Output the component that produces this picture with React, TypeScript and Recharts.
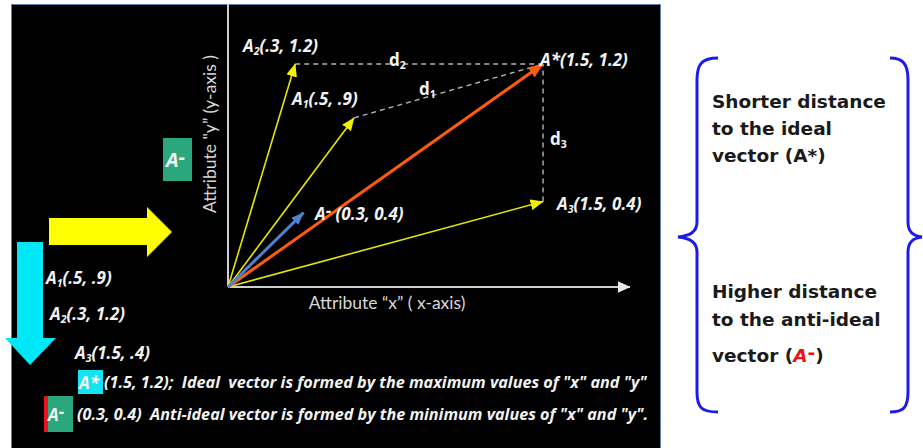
import React from "react";
import { LineChart, Line, XAxis, YAxis } from "recharts";

// vector tips as drawn in the figure (attribute units)
const vectorNames = ["A1", "A2", "A3", "A*", "A-"];
const vectorX = [0.6, 0.32, 1.5, 1.5, 0.36];
const vectorY = [0.91, 1.2, 0.46, 1.2, 0.4];

// dashed distances: from each alternative to the ideal vector
const distanceFrom = ["A1", "A2", "A3"];
const idealName = "A*";

// extent of the drawn axes (x axis ends in an arrow head)
const xDomain = [0, 1.914];
const yDomain = [0, 1.523];

const tip = (name: string) => {
  const i = vectorNames.indexOf(name);
  return { x: vectorX[i], y: vectorY[i] };
};
const origin = { x: 0, y: 0 };

const vectorStyle: Record<string, { stroke: string; width: number; marker: string }> = {
  A1: { stroke: "#e6e600", width: 1.6, marker: "arrYellow" },
  A2: { stroke: "#e6e600", width: 1.6, marker: "arrYellow" },
  A3: { stroke: "#e6e600", width: 1.6, marker: "arrYellow" },
  "A*": { stroke: "#ff5b0d", width: 3, marker: "arrOrange" },
  "A-": { stroke: "#4f80d2", width: 3, marker: "arrBlue" },
};
// yellow first, then orange, blue on top
const drawOrder = ["A1", "A2", "A3", "A*", "A-"];

const labelFont: React.CSSProperties = {
  fontFamily: "'Open Sans', Lato, sans-serif",
  fontWeight: 700,
  fontStyle: "italic",
  color: "#f2f2f2",
};

function T({
  x,
  y,
  size = 17,
  style,
  children,
}: {
  x: number;
  y: number;
  size?: number;
  style?: React.CSSProperties;
  children: React.ReactNode;
}) {
  return (
    <div
      style={{
        position: "absolute",
        left: x,
        top: y - size / 2,
        fontSize: size,
        lineHeight: `${size}px`,
        whiteSpace: "nowrap",
        ...labelFont,
        ...style,
      }}
    >
      {children}
    </div>
  );
}

const Sub = ({ children }: { children: React.ReactNode }) => (
  <span style={{ fontSize: "0.62em", position: "relative", top: "0.35em" }}>{children}</span>
);
const Dash = () => <span style={{ position: "relative", top: "-0.15em" }}>-</span>;

function Marker({ id, fill, w, h }: { id: string; fill: string; w: number; h: number }) {
  return (
    <marker
      id={id}
      viewBox={`0 0 ${w} ${h}`}
      refX={w - 0.5}
      refY={h / 2}
      markerWidth={w}
      markerHeight={h}
      markerUnits="userSpaceOnUse"
      orient="auto"
    >
      <path d={`M0,0 L${w},${h / 2} L0,${h} z`} fill={fill} />
    </marker>
  );
}

function Chart() {
  return (
    <LineChart
      width={923}
      height={448}
      margin={{ top: 4, right: 293, bottom: 161, left: 228 }}
      style={{ position: "absolute", left: 0, top: 0 }}
    >
      <XAxis type="number" dataKey="x" domain={xDomain} hide />
      <YAxis type="number" dataKey="y" domain={yDomain} hide />

      {/* axes */}
      <Line
        data={[origin, { x: 0, y: yDomain[1] }]}
        dataKey="y"
        type="linear"
        stroke="#cfcfcf"
        strokeWidth={2}
        dot={false}
        isAnimationActive={false}
      />
      <Line
        data={[origin, { x: xDomain[1], y: 0 }]}
        dataKey="y"
        type="linear"
        stroke="#cfcfcf"
        strokeWidth={2}
        dot={false}
        markerEnd="url(#arrWhite)"
        isAnimationActive={false}
      />

      {/* distances to the ideal vector */}
      {distanceFrom.map((n) => (
        <Line
          key={`d-${n}`}
          data={[tip(n), tip(idealName)]}
          dataKey="y"
          type="linear"
          stroke="#b4b4b4"
          strokeWidth={1.4}
          strokeDasharray="5 4"
          dot={false}
          isAnimationActive={false}
        />
      ))}

      {drawOrder.map((n) => (
        <Line
          key={`v-${n}`}
          data={[origin, tip(n)]}
          dataKey="y"
          type="linear"
          stroke={vectorStyle[n].stroke}
          strokeWidth={vectorStyle[n].width}
          dot={false}
          markerEnd={`url(#${vectorStyle[n].marker})`}
          isAnimationActive={false}
        />
      ))}
    </LineChart>
  );
}

const noteStyle: React.CSSProperties = {
  position: "absolute",
  left: 712,
  fontFamily: "'DejaVu Sans', sans-serif",
  fontWeight: 700,
  fontSize: 18.5,
  color: "#1a1a1a",
  whiteSpace: "nowrap",
};

const axisTitle: React.CSSProperties = {
  position: "absolute",
  fontFamily: "Lato, sans-serif",
  fontSize: 17.5,
  color: "#d8d8d8",
  whiteSpace: "nowrap",
};

export default function App() {
  return (
    <div
      style={{
        position: "absolute",
        left: 0,
        top: 0,
        width: 923,
        height: 448,
        background: "#ffffff",
        overflow: "hidden",
      }}
    >
      <svg width={0} height={0} style={{ position: "absolute" }}>
        <defs>
          <Marker id="arrYellow" fill="#f2f200" w={13} h={11} />
          <Marker id="arrOrange" fill="#ff5b0d" w={15} h={12} />
          <Marker id="arrBlue" fill="#4f80d2" w={13} h={10} />
          <Marker id="arrWhite" fill="#e8e8e8" w={13} h={12} />
        </defs>
      </svg>

      {/* black slide panel */}
      <div
        style={{
          position: "absolute",
          left: 11,
          top: 4,
          width: 650,
          height: 450,
          boxSizing: "border-box",
          background: "#000",
          borderLeft: "1px solid #5f7fb3",
          borderTop: "1px solid #5f7fb3",
          borderRight: "1px solid #5f7fb3",
          overflow: "hidden",
        }}
      >
        <div style={{ position: "absolute", left: 32, top: 391, width: 4, height: 36, background: "#e8141b" }} />
        <div
          style={{
            position: "absolute",
            left: 36,
            top: 391,
            width: 25,
            height: 36,
            background: "#2aa77c",
          }}
        />
        <T x={36} y={409} size={17}>
          A<Dash />
        </T>
        <div
          style={{ position: "absolute", left: 66, top: 365, width: 25, height: 24, background: "#12e4f2" }}
        />
        <T x={67} y={377} size={17}>
          A*
        </T>
        <T x={92} y={377} size={16.2}>
          (1.5, 1.2);&nbsp; Ideal&nbsp; vector is formed by the maximum values of "x" and "y"
        </T>
        <T x={65} y={409} size={16.2}>
          (0.3, 0.4)&nbsp; Anti-ideal vector is formed by the minimum values of "x" and "y".
        </T>
      </div>

      {/* big arrows and braces */}
      <svg width={923} height={448} style={{ position: "absolute", left: 0, top: 0 }}>
        <polygon points="49,218 147,218 147,207 172,232 147,257 147,245 49,245" fill="#ffff00" />
        <polygon points="17,242 43,242 43,338 56,338 30,365 5,338 17,338" fill="#00e8f8" />
        <path
          d="M718,58 C702,58 697,64 697,80 L697,222 C697,232 690,236 678,237 C690,238 697,242 697,252 L697,392 C697,408 702,412 718,412"
          fill="none"
          stroke="#1c1ce8"
          strokeWidth={3}
        />
        <path
          d="M890,58 C903,58 908,64 908,80 L908,222 C908,232 913,236 922,237 C913,238 908,242 908,252 L908,392 C908,408 903,412 890,412"
          fill="none"
          stroke="#1c1ce8"
          strokeWidth={3}
        />
      </svg>

      <Chart />

      {/* green A- tag next to y axis */}
      <div style={{ position: "absolute", left: 163, top: 138, width: 29, height: 43, background: "#2aa77c" }} />
      <T x={166} y={160} size={20}>
        A<Dash />
      </T>

      {/* axis titles */}
      <div style={{ ...axisTitle, left: 209, top: 134, transform: "translate(-50%, -50%) rotate(-90deg)" }}>
        Attribute "y” (y-axis )
      </div>
      <div style={{ ...axisTitle, left: 387, top: 302, transform: "translate(-50%, -50%)" }}>
        Attribute “x” ( x-axis)
      </div>

      {/* vector labels */}
      <T x={243} y={45}>
        A<Sub>2</Sub>(.3, 1.2)
      </T>
      <T x={292} y={98}>
        A<Sub>1</Sub>(.5, .9)
      </T>
      <T x={540} y={59}>
        A*(1.5, 1.2)
      </T>
      <T x={557} y={203}>
        A<Sub>3</Sub>(1.5, 0.4)
      </T>
      <T x={315} y={213}>
        A<Dash /> (0.3, 0.4)
      </T>
      <T x={389} y={59} style={{ fontStyle: "normal" }}>
        d<Sub>2</Sub>
      </T>
      <T x={419} y={88} style={{ fontStyle: "normal" }}>
        d<Sub>1</Sub>
      </T>
      <T x={550} y={138} style={{ fontStyle: "normal" }}>
        d<Sub>3</Sub>
      </T>

      {/* list under the arrows */}
      <T x={46} y={277}>
        A<Sub>1</Sub>(.5, .9)
      </T>
      <T x={50} y={313}>
        A<Sub>2</Sub>(.3, 1.2)
      </T>
      <T x={75} y={352}>
        A<Sub>3</Sub>(1.5, .4)
      </T>

      {/* right hand notes */}
      <div style={{ ...noteStyle, top: 88, lineHeight: "27px" }}>
        Shorter distance
        <br />
        to the ideal
        <br />
        vector (A*)
      </div>
      <div style={{ ...noteStyle, top: 278, lineHeight: "28px" }}>
        Higher distance
        <br />
        to the anti-ideal
      </div>
      <div style={{ ...noteStyle, top: 342, lineHeight: "28px" }}>
        vector (<span style={{ color: "#f01010", fontStyle: "italic" }}>A</span>
        <span style={{ color: "#f01010", position: "relative", top: "-0.15em" }}>-</span>)
      </div>
    </div>
  );
}
